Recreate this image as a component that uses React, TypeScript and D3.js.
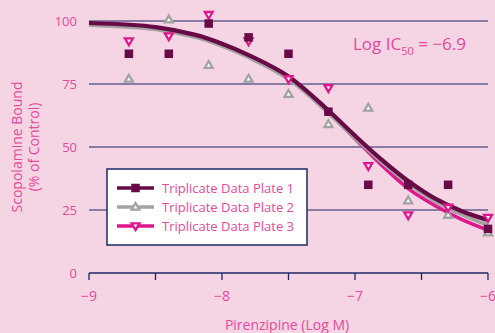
import React from 'react';
import * as d3 from 'd3';

// concentrations (log M)
const doses = [-8.7, -8.4, -8.1, -7.8, -7.5, -7.2, -6.9, -6.6, -6.3, -6.0];
const plate1 = [87, 87, 99, 93.5, 87, 64, 35, 35, 35, 17.5];
const plate2 = [77, 100.5, 82.5, 77, 71, 59, 65.5, 28.7, 23, 16];
const plate3 = [92, 94, 102.5, 92, 77, 73.5, 42.5, 23, 26, 22];

// fitted curves
const fitX = [-9, -8.5, -8.2, -8.0, -7.8, -7.5, -7.2, -7.0, -6.8, -6.6, -6.4, -6.2, -6.0];
const fit1 = [99.2, 97.6, 94.5, 91, 86.5, 78, 64.5, 54.5, 45, 36.5, 29.6, 24.6, 21];
const fit2 = [98.4, 96.7, 93.6, 90.1, 85.6, 77, 63.5, 53.6, 44.1, 35.6, 28.6, 23.3, 19];
const fit3 = [99, 97.3, 94.2, 90.7, 86.2, 77.6, 63.8, 53.3, 42.8, 33.5, 26.8, 21.3, 17];

const xTicks = [-9, -8.5, -8, -7.5, -7, -6.5, -6];
const xLabels = [-9, -8, -7, -6];
const yTicks = [0, 25, 50, 75, 100];
const legendNames = ['Triplicate Data Plate 1', 'Triplicate Data Plate 2', 'Triplicate Data Plate 3'];

const W = 495, H = 333;
const BG = '#f5d4e4';
const NAVY = '#1d2866';
const PINK = '#e6499c';
const C1 = '#680a45';
const C2 = '#a3a3a3';
const C3 = '#e0168c';
const FONT = '"Open Sans", sans-serif';

const x = d3.scaleLinear().domain([-9, -6]).range([89, 488]);
const y = d3.scaleLinear().domain([0, 100]).range([273, 21]);

const line = d3.line<number>()
  .x((_, i) => x(fitX[i]))
  .y(d => y(d))
  .curve(d3.curveCatmullRom);

const upTri = (cx: number, cy: number, s: number) =>
  `M${cx},${cy - s * 0.6}L${cx + s * 0.58},${cy + s * 0.4}L${cx - s * 0.58},${cy + s * 0.4}Z`;
const downTri = (cx: number, cy: number, s: number) =>
  `M${cx},${cy + s * 0.6}L${cx + s * 0.58},${cy - s * 0.4}L${cx - s * 0.58},${cy - s * 0.4}Z`;

const Square = ({ cx, cy }: { cx: number; cy: number }) => (
  <rect x={cx - 4.25} y={cy - 4.25} width={8.5} height={8.5} fill={C1} />
);
const Up = ({ cx, cy }: { cx: number; cy: number }) => (
  <path d={upTri(cx, cy, 6.8)} fill="#fff" stroke={C2} strokeWidth={2.3} />
);
const Down = ({ cx, cy }: { cx: number; cy: number }) => (
  <path d={downTri(cx, cy, 6.8)} fill="#fff" stroke={C3} strokeWidth={2.3} />
);

export default function App() {
  const legend = [
    { name: legendNames[0], color: C1, Mark: Square },
    { name: legendNames[1], color: C2, Mark: Up },
    { name: legendNames[2], color: C3, Mark: Down },
  ];
  return (
    <svg width={W} height={H} style={{ position: 'absolute', left: 0, top: 0 }} fontFamily={FONT}>
      <rect width={W} height={H} fill={BG} />

      {/* gridlines */}
      {yTicks.filter(t => t > 0).map(t => (
        <line key={t} x1={x(-9)} x2={x(-6)} y1={y(t)} y2={y(t)} stroke={NAVY} strokeWidth={1.2} />
      ))}

      {/* x axis */}
      <line x1={x(-9)} x2={x(-6)} y1={y(0)} y2={y(0)} stroke={NAVY} strokeWidth={1.5} />
      {xTicks.map(t => (
        <line key={t} x1={x(t)} x2={x(t)} y1={y(0)} y2={y(0) + 7} stroke={NAVY} strokeWidth={1.3} />
      ))}
      {xLabels.map(t => (
        <text key={t} x={x(t)} y={y(0) + 28} textAnchor="middle" fontSize={14} fill={PINK}>
          {'\u2212' + Math.abs(t)}
        </text>
      ))}
      <text x={287} y={330} textAnchor="middle" fontSize={14} fill={PINK}>Pirenzipine (Log M)</text>

      {/* y axis labels */}
      {yTicks.map(t => (
        <text key={t} x={77} y={y(t) + 5} textAnchor="end" fontSize={13} fill={PINK}>{t}</text>
      ))}
      <g transform="translate(22,147) rotate(-90)">
        <text x={0} y={0} textAnchor="middle" fontSize={14} fill={PINK}>Scopolamine Bound</text>
        <text x={0} y={17} textAnchor="middle" fontSize={14} fill={PINK}>(% of Control)</text>
      </g>

      {/* fits */}
      <path d={line(fit3) ?? ''} fill="none" stroke={C3} strokeWidth={3.5} />
      <path d={line(fit2) ?? ''} fill="none" stroke={C2} strokeWidth={4} />
      <path d={line(fit1) ?? ''} fill="none" stroke={C1} strokeWidth={4.2} />

      {/* points */}
      {doses.map((d, i) => <Up key={'b' + i} cx={x(d)} cy={y(plate2[i])} />)}
      {doses.map((d, i) => <Down key={'c' + i} cx={x(d)} cy={y(plate3[i])} />)}
      {doses.map((d, i) => <Square key={'a' + i} cx={x(d)} cy={y(plate1[i])} />)}

      {/* IC50 */}
      <text x={353} y={50} fontSize={17} fill={PINK}>
        Log IC<tspan fontSize={11} dy={5}>50</tspan><tspan dy={-5}> = </tspan>{'\u22126.9'}
      </text>

      {/* legend */}
      <rect x={107} y={169} width={200} height={76} fill="#fff" stroke={NAVY} strokeWidth={1.5} />
      {legend.map((l, i) => {
        const cy = 188 + i * 19;
        return (
          <g key={l.name}>
            <line x1={117} x2={154} y1={cy} y2={cy} stroke={l.color} strokeWidth={3.5} />
            <l.Mark cx={135.5} cy={cy} />
            <text x={162} y={cy + 5} fontSize={13} fill={PINK}>{l.name}</text>
          </g>
        );
      })}
    </svg>
  );
}
